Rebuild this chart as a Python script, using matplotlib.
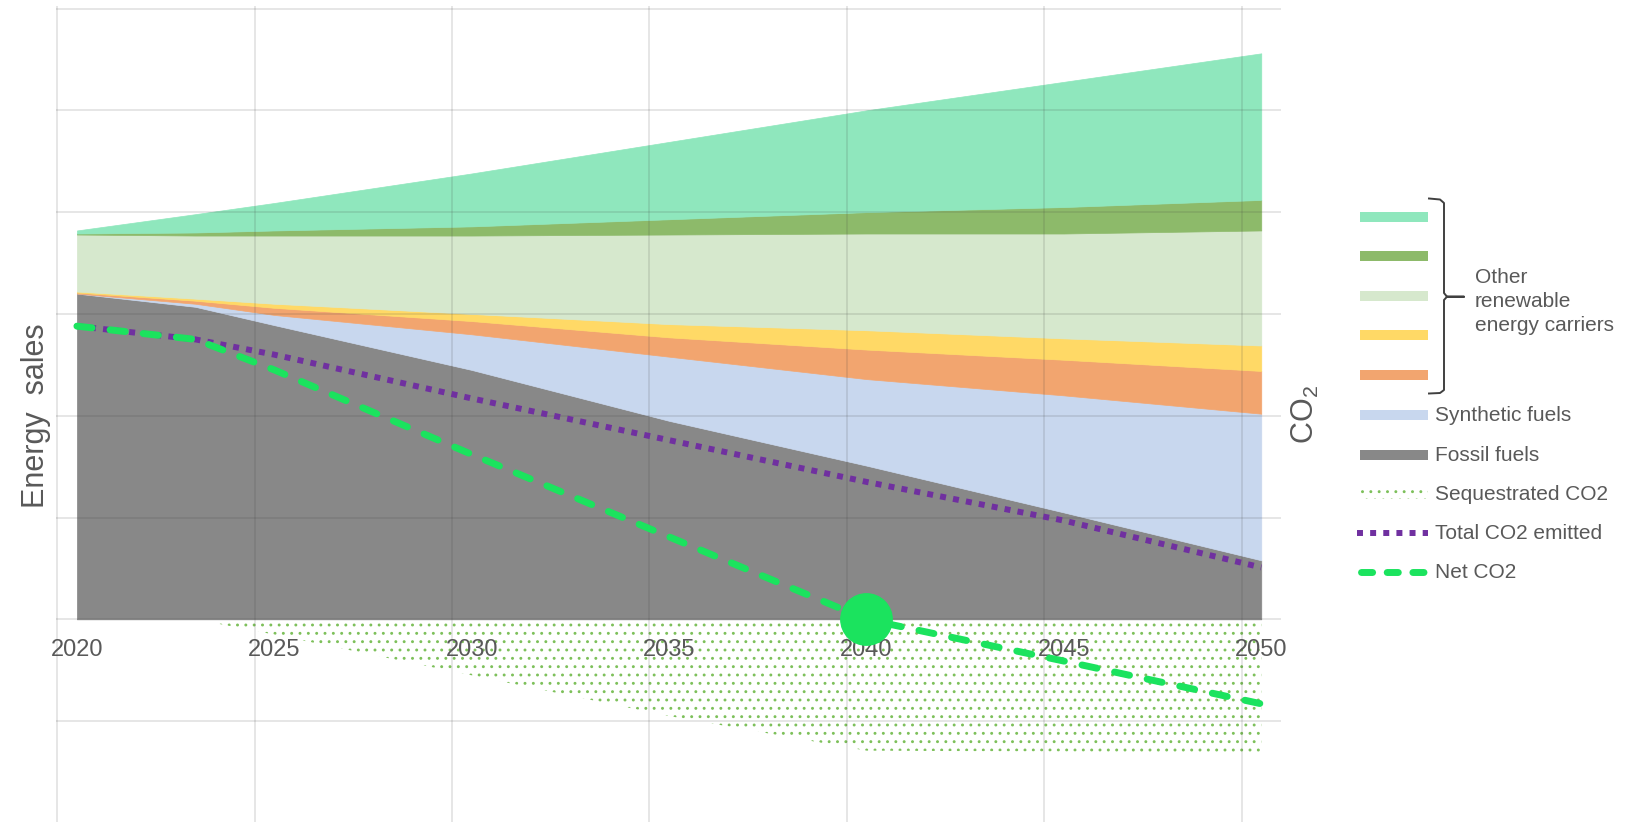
import matplotlib
matplotlib.use("Agg")
import numpy as np
import matplotlib.pyplot as plt
from matplotlib.patches import Rectangle

plt.rcParams['font.family'] = ['Liberation Sans', 'DejaVu Sans']
plt.rcParams['mathtext.fontset'] = 'custom'
plt.rcParams['mathtext.rm'] = 'Liberation Sans'
plt.rcParams['hatch.linewidth'] = 0.9

# data (energy units / CO2 units, same scale)
years = [2020, 2023, 2025, 2030, 2035, 2040, 2045, 2050]

fossil    = [3.20, 3.07, 2.89, 2.45, 1.95, 1.51, 1.05, 0.58]
synthetic = [0.00, 0.03, 0.10, 0.35, 0.63, 0.85, 1.15, 1.44]
orange    = [0.01, 0.03, 0.07, 0.13, 0.19, 0.29, 0.35, 0.42]
yellow    = [0.01, 0.02, 0.04, 0.07, 0.13, 0.19, 0.21, 0.25]
pale      = [0.56, 0.62, 0.67, 0.77, 0.88, 0.95, 1.03, 1.13]
dkgreen   = [0.01, 0.03, 0.05, 0.09, 0.15, 0.21, 0.26, 0.30]
mint      = [0.03, 0.18, 0.27, 0.52, 0.76, 1.00, 1.23, 1.44]

total_co2 = [2.88, 2.75, 2.60, 2.17, 1.76, 1.35, 0.97, 0.51]
net_co2   = [2.88, 2.75, 2.45, 1.62, 0.81, 0.00, -0.41, -0.83]
seq_co2   = [0.00, 0.00, -0.15, -0.55, -0.95, -1.29, -1.30, -1.31]
net_zero_year = 2040

tick_years = [2020, 2025, 2030, 2035, 2040, 2045, 2050]

c_fossil = '#888888'
c_synth = '#C8D7EE'
c_orange = '#F2A56F'
c_yellow = '#FFD966'
c_pale = '#D6E8CD'
c_dkgreen = '#8DBA6A'
c_mint = '#8FE7BD'
c_purple = '#7030A0'
c_net = '#1BE35E'
c_hatch = '#7DC05A'
c_text = '#595959'

W, H = 1630, 822
fig = plt.figure(figsize=(W / 100, H / 100), dpi=100)
ax = fig.add_axes([56 / W, 0, (1281 - 56) / W, (822 - 6) / H])

ax.stackplot(years, fossil, synthetic, orange, yellow, pale, dkgreen, mint,
             colors=[c_fossil, c_synth, c_orange, c_yellow, c_pale, c_dkgreen, c_mint],
             edgecolor='face', linewidth=0.5, zorder=1)

ax.fill_between(years, seq_co2, 0, facecolor='none', edgecolor=c_hatch,
                hatch='..', linewidth=0, zorder=1)

ax.plot(years, total_co2, color=c_purple, lw=4.3, linestyle=(0, (1, 1.2)), zorder=3)
ax.plot(years, net_co2, color=c_net, lw=5, linestyle=(0, (2.2, 2.6)),
        dash_capstyle='round', zorder=4)
ax.plot([net_zero_year], [net_co2[years.index(net_zero_year)]], 'o',
        color=c_net, markersize=37, zorder=5)

ax.set_xlim(2019.47, 2050.5)
ax.set_ylim(-1.991, 6.025)

ax.set_xticks(tick_years)
ax.set_xticks(np.arange(2019.5, 2050, 5), minor=True)
ax.set_yticks(range(-1, 7))
ax.set_axisbelow(False)
ax.grid(which='minor', axis='x', color='#404040', alpha=0.17, lw=1.1)
ax.grid(which='major', axis='y', color='#404040', alpha=0.17, lw=1.1)
ax.grid(which='major', axis='x', visible=False)

for s in ax.spines.values():
    s.set_visible(False)
ax.spines['bottom'].set_position(('data', 0))
ax.tick_params(axis='x', which='both', length=0, pad=14, labelsize=17, labelcolor=c_text)
ax.tick_params(axis='y', which='both', length=0, labelleft=False)

fig.text(36 / W, 1 - 416 / H, 'Energy  sales', rotation=90, ha='center', va='center',
         fontsize=22, color=c_text)
fig.text(1305 / W, 1 - 415 / H, r'CO$_2$', rotation=90, ha='center', va='center',
         fontsize=22, color=c_text)

# legend drawn by hand in pixel coordinates
lax = fig.add_axes([0, 0, 1, 1])
lax.set_xlim(0, W)
lax.set_ylim(H, 0)
lax.axis('off')

row_y = [217, 256, 296, 335, 375, 415, 455, 494, 533, 572]
patch_colors = [c_mint, c_dkgreen, c_pale, c_yellow, c_orange, c_synth, c_fossil]
for yy, col in zip(row_y, patch_colors):
    lax.add_patch(Rectangle((1360, yy - 5.2), 68, 10.4, facecolor=col, lw=0))
lax.add_patch(Rectangle((1360, row_y[7] - 5), 68, 10, facecolor='none',
                        edgecolor=c_hatch, hatch='..', lw=0))
lax.plot([1357, 1428], [row_y[8]] * 2, color=c_purple, lw=4.3, linestyle=(0, (1, 1.2)))
lax.plot([1361, 1424], [row_y[9]] * 2, color=c_net, lw=5, linestyle=(0, (1.6, 2.1)),
         dash_capstyle='round')

labels = ['Synthetic fuels', 'Fossil fuels', 'Sequestrated CO2',
          'Total CO2 emitted', 'Net CO2']
for yy, lab in zip(row_y[5:], labels):
    lax.text(1435, yy, lab, ha='left', va='center', fontsize=15, color=c_text)

brace_x = [1429, 1440, 1444, 1444, 1447, 1464, 1447, 1444, 1444, 1440, 1429]
brace_y = [198.5, 199.5, 203, 293, 296.7, 296.7, 296.7, 300, 390, 393, 393.5]
lax.plot(brace_x, brace_y, color='#404040', lw=1.4, solid_joinstyle='round')
lax.text(1475, 301.7, 'Other\nrenewable\nenergy carriers', ha='left', va='center',
         fontsize=15, color=c_text, linespacing=1.32)

fig.savefig('out.png', dpi=100, facecolor='white')
